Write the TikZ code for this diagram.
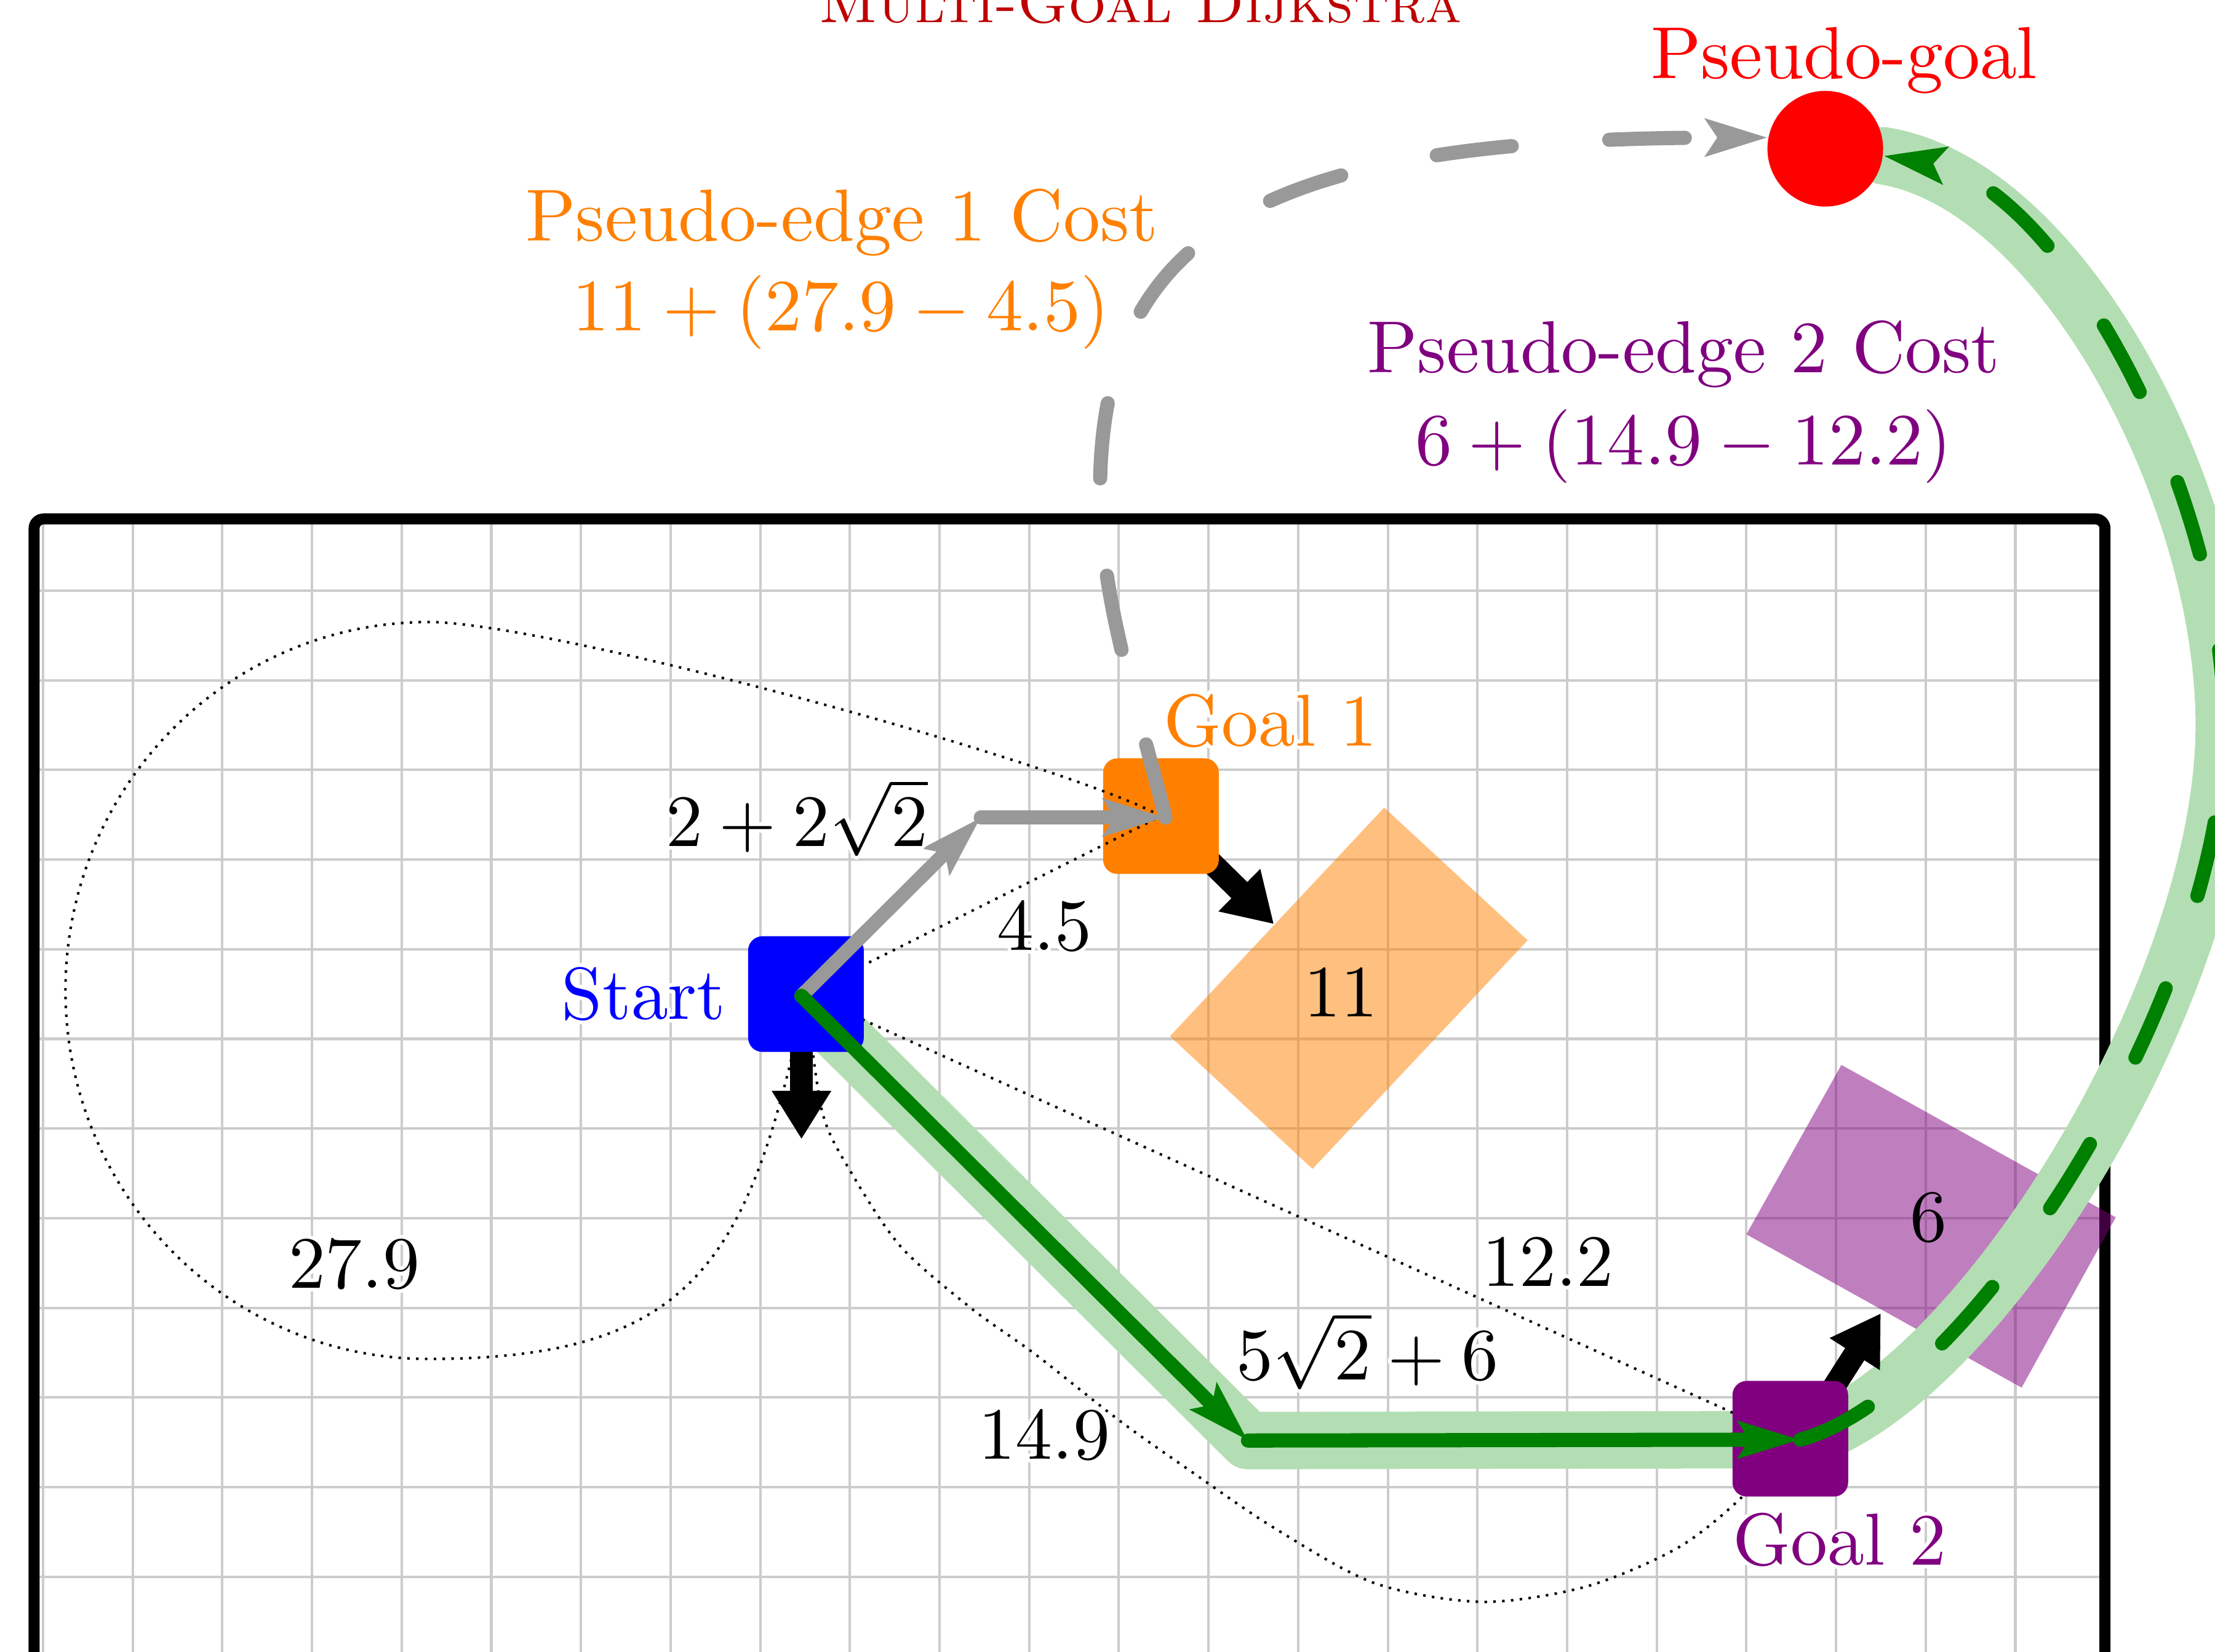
\documentclass[tikz,border=0pt]{standalone}
\usepackage{contour}
\usetikzlibrary{arrows.meta}
\pgfdeclarelayer{back}
\pgfdeclarelayer{gone}
\pgfdeclarelayer{dots}
\pgfsetlayers{back,gone,dots,main}
\contourlength{0.5pt}
\definecolor{gorange}{RGB}{255,128,0}
\definecolor{gpurple}{RGB}{128,0,128}
\definecolor{dgreen}{RGB}{0,128,0}
\definecolor{lgreen}{RGB}{179,222,179}
\definecolor{pathgrey}{RGB}{153,153,153}
\definecolor{titlered}{RGB}{190,0,0}
\definecolor{gridgrey}{RGB}{204,204,204}
\begin{document}
\begin{tikzpicture}[
  gridline/.style={draw=gridgrey, line width=0.8pt},
  frameline/.style={line width=3.5pt, rounded corners=3pt},
  robot/.style={rectangle, rounded corners=4.5pt, minimum size=1.29cm, inner sep=0pt},
  lbl/.style={scale=2.34, inner sep=0pt, anchor=base},
  titlelbl/.style={scale=1.9, inner sep=0pt, anchor=base, text=titlered},
  heading/.style={line width=7.2pt, -{Triangle[length=15.4pt,width=17.8pt]}},
  pathtip/.style={-{Stealth[length=19.5pt,width=11.5pt,inset=3.5pt]}},
  greyline/.style={draw=pathgrey, line width=4.5pt, line cap=round, pathtip},
  greenline/.style={draw=dgreen, line width=4.5pt, line cap=round, pathtip},
  band/.style={draw=lgreen, line width=18.2pt, line cap=round, line join=round},
  dots/.style={line width=0.8pt, dotted},
  longdash/.style={dash pattern=on 24pt off 31pt},
  footprint/.style={opacity=0.5}
]
\useasboundingbox (-0.4804,-11.8325) rectangle (24.2276,6.5889);

% nodes
\node[robot, fill=blue] (start) at (8.51,-4.5) {};
\node[robot, fill=gpurple] (goal2) at (19.49,-9.46) {};
\node[circle, fill=red, minimum size=1.29cm, inner sep=0pt] (pg) at (19.88,4.93) {};
\begin{pgfonlayer}{gone}
\node[robot, fill=gorange] (goal1) at (12.47,-2.515) {};
\end{pgfonlayer}

% robot poses, corners, heading tips
\coordinate (sp) at (8.46,-4.52);
\coordinate (c1) at (10.46,-2.53);
\coordinate (g1p) at (12.52,-2.53);
\coordinate (c2) at (13.44,-9.48);
\coordinate (g2p) at (19.6,-9.47);
\coordinate (sh) at (8.46,-6.12);
\coordinate (g1h) at (13.73,-3.72);
\coordinate (g2h) at (20.5,-8.06);

\begin{pgfonlayer}{back}
  \begin{scope}
    \clip (-0.1,-14) rectangle (23,0.8);
    \draw[gridline] (-1,-14) grid (24,1);
  \end{scope}
  \draw[frameline] (-0.1,-14) rectangle (23,0.8);
  \fill[gorange, footprint] (14.96,-2.42) -- (16.56,-3.90) -- (14.16,-6.45) -- (12.57,-4.97) -- cycle;
  \fill[gpurple, footprint] (20.06,-5.29) -- (23.12,-6.99) -- (22.07,-8.89) -- (19.00,-7.18) -- cycle;
  \draw[band] (sp) -- (c2) -- (g2p) .. controls (21.53,-8.95) and (24.33,-4.5) .. (24.33,-1.5)
              .. controls (24.33,1.1) and (22.50,4.54) .. (pg.-7);
  \draw[heading] (g1p) -- (g1h);
\end{pgfonlayer}

\begin{pgfonlayer}{dots}
  \draw[dots] (start.center) -- (goal1.center);
  \draw[dots] (start.center) -- (goal2.center);
  \draw[dots] (goal1.center) .. controls (11.42,-1.93) and (5.66,-0.35) .. (4.3,-0.35)
              arc[start angle=90, end angle=270, x radius=4.05, y radius=4.11]
              .. controls (7.3,-8.57) and (7.886,-7.434) .. (start.center);
  \draw[dots] plot[smooth] coordinates {(start.center) (8.69,-5.81) (9.02,-6.50) (9.57,-7.32) (10.36,-8.01) (11.07,-8.52) (12.01,-9.26) (12.80,-9.82) (13.74,-10.46) (14.85,-11.07) (16.05,-11.28) (17.21,-11.11) (18.23,-10.68) (18.94,-10.12) (goal2.center)};
  \draw[heading] (sp) -- (sh);
  \draw[heading] (g2p) -- (g2h);
\end{pgfonlayer}

% paths
\draw[greyline] (sp) -- (c1);
\draw[greyline] (c1) -- (g1p);
\draw[greenline] (sp) -- (c2);
\draw[greenline] (c2) -- (g2p);
\draw[greyline, longdash] (g1p) .. controls (12.23,-1.37) and (11.79,-0.1) .. (11.79,1.1)
      .. controls (11.79,4.1) and (13.75,5.05) .. (pg.169);
\draw[greenline, longdash] (g2p) .. controls (21.53,-8.95) and (24.33,-4.5) .. (24.33,-1.5)
      .. controls (24.33,1.1) and (22.50,4.54) .. (pg.-7);

% labels
\node[titlelbl] (title) at (12.24,6.34) {\textsc{Multi-Goal Dijkstra}};
\node[lbl, text=red] (lpg) at (20.09,5.716) {Pseudo-goal};
\node[lbl, text=gorange] (lpe1a) at (8.91,3.905) {Pseudo-edge 1 Cost};
\node[lbl, text=gorange] (lpe1b) at (8.90,2.90) {$11+(27.9-4.5)$};
\node[lbl, text=gpurple] (lpe2a) at (18.30,2.432) {Pseudo-edge 2 Cost};
\node[lbl, text=gpurple] (lpe2b) at (18.30,1.407) {$6+(14.9-12.2)$};
\node[lbl, text=blue] (lstart) at (6.70,-4.78) {\contour{white}{Start}};
\node[lbl, text=gorange] (lg1) at (13.69,-1.73) {\contour{white}{Goal 1}};
\node[lbl, text=gpurple] (lg2) at (20.04,-10.87) {\contour{white}{Goal 2}};
\node[lbl] (lc1) at (8.41,-2.85) {\contour{white}{$2+2\sqrt{2}$}};
\node[lbl] (lc2) at (14.77,-8.80) {\contour{white}{$5\sqrt{2}+6$}};
\node[lbl] (ld45) at (11.17,-4.01) {\contour{white}{$4.5$}};
\node[lbl] (ld279) at (3.47,-7.78) {\contour{white}{$27.9$}};
\node[lbl] (ld122) at (16.79,-7.76) {\contour{white}{$12.2$}};
\node[lbl] (ld149) at (11.17,-9.69) {\contour{white}{$14.9$}};
\node[lbl] (lr11) at (14.48,-4.75) {$11$};
\node[lbl] (lr6) at (21.03,-7.26) {$6$};
\end{tikzpicture}
\end{document}
